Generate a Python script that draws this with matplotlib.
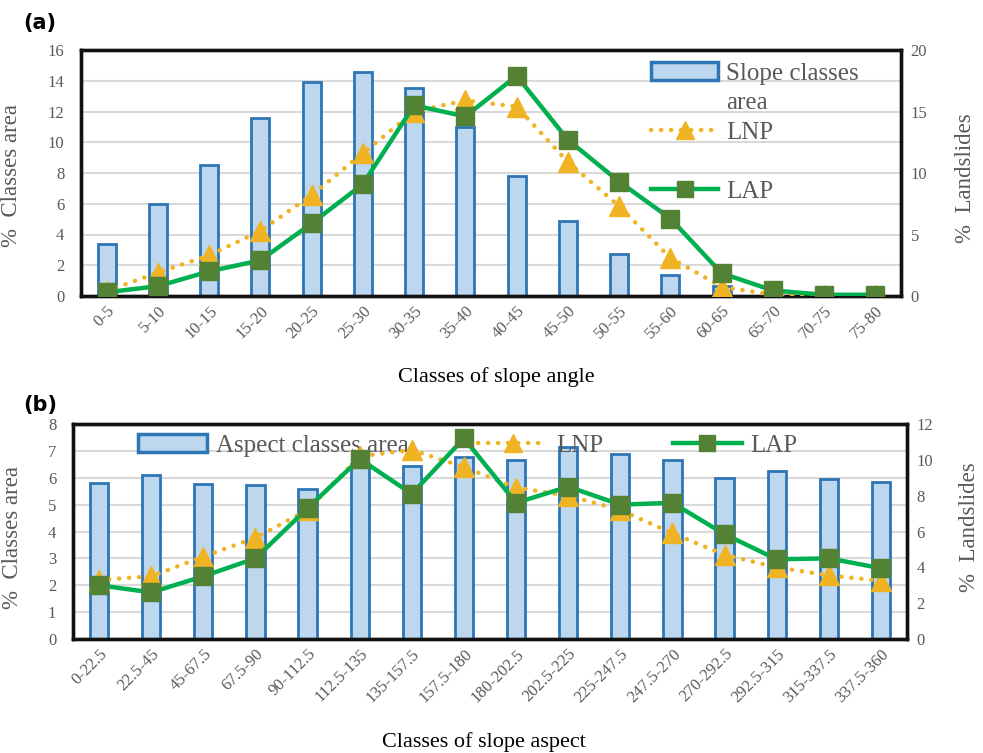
import matplotlib
matplotlib.use('Agg')
import matplotlib.pyplot as plt
from matplotlib.patches import Patch
from matplotlib.lines import Line2D
from matplotlib.transforms import ScaledTranslation
import numpy as np

# ---------------- data ----------------
slope_classes = ['0-5', '5-10', '10-15', '15-20', '20-25', '25-30', '30-35', '35-40',
                 '40-45', '45-50', '50-55', '55-60', '60-65', '65-70', '70-75', '75-80']
slope_area = [3.4, 6.0, 8.5, 11.6, 13.9, 14.6, 13.5, 11.0, 7.8, 4.9, 2.7, 1.35, 0.65, 0.15, 0.05, 0.02]
slope_lnp = [0.4, 1.9, 3.3, 5.3, 8.2, 11.6, 15.0, 15.9, 15.4, 10.9, 7.3, 3.1, 0.75, 0.1, 0.05, 0.05]
slope_lap = [0.3, 0.8, 2.0, 2.9, 5.9, 9.1, 15.5, 14.6, 17.9, 12.7, 9.3, 6.3, 1.85, 0.45, 0.1, 0.1]

aspect_classes = ['0-22.5', '22.5-45', '45-67.5', '67.5-90', '90-112.5', '112.5-135',
                  '135-157.5', '157.5-180', '180-202.5', '202.5-225', '225-247.5',
                  '247.5-270', '270-292.5', '292.5-315', '315-337.5', '337.5-360']
aspect_area = [5.8, 6.1, 5.75, 5.73, 5.57, 6.5, 6.43, 6.76, 6.66, 7.13, 6.88, 6.66, 6.0, 6.24, 5.94, 5.86]
aspect_lnp = [3.3, 3.5, 4.6, 5.65, 7.2, 10.2, 10.55, 9.6, 8.45, 8.0, 7.2, 5.9, 4.7, 4.0, 3.55, 3.25]
aspect_lap = [3.0, 2.6, 3.5, 4.5, 7.3, 10.05, 8.1, 11.2, 7.6, 8.5, 7.5, 7.6, 5.85, 4.45, 4.5, 3.95]

left_ticks_a = [0, 2, 4, 6, 8, 10, 12, 14, 16]
right_ticks_a = [0, 5, 10, 15, 20]
left_ticks_b = [0, 1, 2, 3, 4, 5, 6, 7, 8]
right_ticks_b = [0, 2, 4, 6, 8, 10, 12]

# ---------------- style ----------------
SERIF = ['Liberation Serif', 'DejaVu Serif']
BAR_FILL = '#BDD7EE'
BAR_EDGE = '#2E75B6'
LNP_C = '#F0B323'
LAP_C = '#00B050'
SQ_C = '#548235'
TICK_C = '#595959'
W, H = 983, 753
LEG_FS = 18

fig = plt.figure(figsize=(W / 100, H / 100), dpi=100)


def make_panel(rect, cats, area, lnp, lap, lticks, rticks, area_label, ylabel_pos, legend_kind):
    ax = fig.add_axes(rect)
    ax2 = ax.twinx()
    x = np.arange(len(cats))
    ax.bar(x, area, width=0.35, color=BAR_FILL, edgecolor=BAR_EDGE, linewidth=2.0, zorder=2)
    ax.set_xlim(-0.5, len(cats) - 0.5)
    ax.set_ylim(lticks[0], lticks[-1])
    ax.set_yticks(lticks)
    ax2.set_ylim(rticks[0], rticks[-1])
    ax2.set_yticks(rticks)
    ax.set_axisbelow(True)
    ax.yaxis.grid(True, color='#D9D9D9', linewidth=1.5)
    ax.set_xticks(x)
    ax.set_xticklabels(cats, rotation=45, ha='right', rotation_mode='anchor',
                       family=SERIF, fontsize=14, color=TICK_C)
    off = ScaledTranslation(5 / 100, 0, fig.dpi_scale_trans)
    for lab in ax.get_xticklabels():
        lab.set_transform(lab.get_transform() + off)
    for a in (ax, ax2):
        a.tick_params(axis='both', length=0, labelsize=12, labelcolor=TICK_C)
        for s in a.spines.values():
            s.set_linewidth(2.4)
            s.set_color('#111111')
        for lab in a.get_yticklabels():
            lab.set_family(SERIF)
    ax.tick_params(axis='y', pad=12)
    ax2.tick_params(axis='y', pad=7)
    ax.tick_params(axis='x', pad=5)

    ax2.plot(x, lnp, linestyle=(0, (0.05, 2.2)), dash_capstyle='round', linewidth=3.2,
             color=LNP_C, marker='^', markersize=15, markerfacecolor=LNP_C,
             markeredgecolor=LNP_C, zorder=3)
    ax2.plot(x, lap, linestyle='-', linewidth=3.2, color=LAP_C, marker='s', markersize=12.5,
             markerfacecolor=SQ_C, markeredgecolor=SQ_C, zorder=4)

    ax.set_ylabel('%  Classes area', family=SERIF, fontsize=16.5, color=TICK_C)
    ax2.set_ylabel('%  Landslides', family=SERIF, fontsize=16.5, color=TICK_C)
    ax.yaxis.set_label_coords(*ylabel_pos[0])
    ax2.yaxis.set_label_coords(*ylabel_pos[1])

    bar_h = Patch(facecolor=BAR_FILL, edgecolor=BAR_EDGE, linewidth=2.5)
    lnp_h = Line2D([], [], linestyle=(0, (0.05, 2.2)), dash_capstyle='round', linewidth=3.2,
                   color=LNP_C, marker='^', markersize=13, markerfacecolor=LNP_C,
                   markeredgecolor=LNP_C)
    lap_h = Line2D([], [], linestyle='-', linewidth=3.2, color=LAP_C, marker='s',
                   markersize=11, markerfacecolor=SQ_C, markeredgecolor=SQ_C)
    blank = Patch(facecolor='none', edgecolor='none')
    if legend_kind == 'a':
        leg = ax.legend([bar_h, blank, lnp_h, blank, lap_h],
                        ['Slope classes', 'area', 'LNP', ' ', 'LAP'],
                        loc='upper left', bbox_to_anchor=(0.695, 0.95), frameon=False,
                        prop={'family': SERIF, 'size': LEG_FS}, handlelength=2.7,
                        handletextpad=0.3, labelspacing=0.28, borderpad=0,
                        borderaxespad=0)
    else:
        leg = ax.legend([bar_h, lnp_h, lap_h], [area_label, 'LNP', 'LAP'],
                        loc='center left', bbox_to_anchor=(0.078, 0.9), frameon=False,
                        ncol=3, prop={'family': SERIF, 'size': LEG_FS}, handlelength=2.75,
                        handletextpad=0.35, columnspacing=2.8, borderpad=0,
                        borderaxespad=0)
    for t in leg.get_texts():
        t.set_color(TICK_C)
    return ax, ax2


# panel (a)
ra = [81 / W, 1 - 296 / H, (901 - 81) / W, (296 - 50) / H]
make_panel(ra, slope_classes, slope_area, slope_lnp, slope_lap, left_ticks_a, right_ticks_a,
           'Slope classes area', [(-0.072, 0.49), (1.066, 0.48)], 'a')

# panel (b)
rb = [73 / W, 1 - 639 / H, (907 - 73) / W, (639 - 424) / H]
make_panel(rb, aspect_classes, aspect_area, aspect_lnp, aspect_lap, left_ticks_b, right_ticks_b,
           'Aspect classes area', [(-0.06, 0.47), (1.062, 0.52)], 'b')

fig.text(496 / W, 1 - 377 / H, 'Classes of slope angle', family=SERIF, fontsize=16,
         ha='center', va='center', color='black')
fig.text(484 / W, 1 - 742 / H, 'Classes of slope aspect', family=SERIF, fontsize=16,
         ha='center', va='center', color='black')
fig.text(23 / W, 1 - 23 / H, '(a)', family='DejaVu Sans', fontweight='bold', fontsize=15,
         ha='left', va='center')
fig.text(23 / W, 1 - 405 / H, '(b)', family='DejaVu Sans', fontweight='bold', fontsize=15,
         ha='left', va='center')

fig.savefig('out.png', dpi=100)
